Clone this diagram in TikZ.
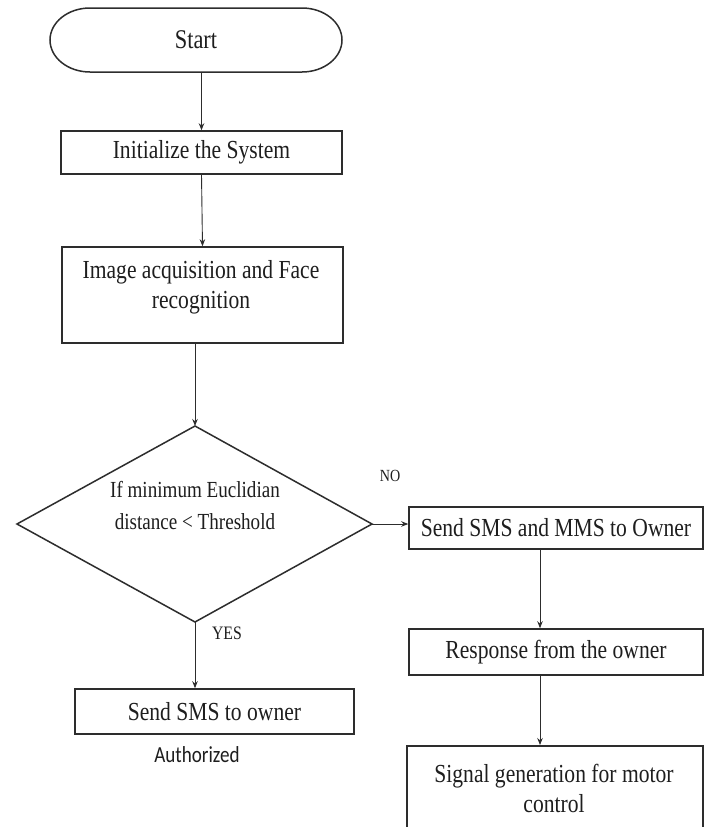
\documentclass[tikz,border=0pt]{standalone}
\usepackage{fontspec}
\setmainfont{Liberation Serif}[FakeStretch=0.83]
\newfontfamily\calfont{Carlito}[FakeStretch=0.83]
\usetikzlibrary{arrows.meta,calc}
\definecolor{linec}{RGB}{45,45,45}
\definecolor{txt}{RGB}{30,30,30}
\begin{document}
\begin{tikzpicture}[x=1pt,y=-1pt,
  box/.style={draw=linec, line width=1.5pt, fill=white, align=center, inner sep=0pt,
    font=\fontsize{26}{35}\selectfont, text=txt},
  btext/.style={align=center, inner sep=0pt, font=\fontsize{26}{30}\selectfont, text=txt},
  arr/.style={draw=linec, line width=0.9pt, -{Stealth[length=7pt,width=5.5pt]}},
  lbl/.style={text=txt, inner sep=0pt}]
\useasboundingbox (0,0) rectangle (709,827);
\clip (0,0) rectangle (709,827);
\fill[white] (0,0) rectangle (709,827);

% Start terminal
\draw[draw=linec, line width=1.5pt] (90,8) -- (302,8)
  arc[start angle=-90,end angle=90,x radius=40,y radius=32] -- (90,72)
  arc[start angle=90,end angle=270,x radius=40,y radius=32] -- cycle;
\node[minimum width=292pt, minimum height=64pt, inner sep=0pt,
  font=\fontsize{27}{30}\selectfont, text=txt] (start) at (196,40) {Start};

% Boxes
\node[box, minimum width=281pt, minimum height=43pt] (init) at (201.5,152.5) {Initialize the System};
\node[box, minimum width=281pt, minimum height=96pt] (img) at (202.5,295) {};
\node[btext] (imgt) at (201,287) {Image acquisition and Face\\recognition};

% Diamond
\coordinate (dtop) at (195,426);
\coordinate (dright) at (372,524);
\coordinate (dbot) at (195,622);
\coordinate (dleft) at (17,524);
\draw[draw=linec, line width=1.5pt, fill=white] (dtop) -- (dright) -- (dbot) -- (dleft) -- cycle;
\node[lbl, align=center, font=\fontsize{23}{32}\selectfont] (dtext) at (195,506) {If minimum Euclidian\\distance < Threshold};

\node[box, minimum width=294pt, minimum height=42pt] (mms) at (556,528) {Send SMS and MMS to Owner};
\node[box, minimum width=294pt, minimum height=46pt] (resp) at (556,652) {Response from the owner};
\node[box, minimum width=296pt, minimum height=115pt, anchor=north] (sig) at (555,745) {};
\node[btext] (sigt) at (554,788) {Signal generation for motor\\control};

\node[box, minimum width=279pt, minimum height=45pt] (sms) at (214.5,711.5) {Send SMS to owner};
\node[lbl, font=\calfont\fontsize{23}{26}\selectfont] (auth) at (197,755) {Authorized};

% Labels
\node[lbl, font=\fontsize{17}{20}\selectfont] (no) at (390,476) {NO};
\node[lbl, font=\fontsize{19}{22}\selectfont] (yes) at (227,633) {YES};

% Connectors
\coordinate (ax) at (540,600);
\draw[arr] (init.north |- start.south) -- (init.north);
\draw[arr] (init.south) -- (img.north);
\draw[arr] (dtop |- img.south) -- (dtop);
\draw[arr] (dright) -- (dright -| mms.west);
\draw[arr] (dbot) -- (dbot |- sms.north);
\draw[arr] (mms.south -| ax) -- (resp.north -| ax);
\draw[arr] (resp.south -| ax) -- (sig.north -| ax);
\end{tikzpicture}
\end{document}
